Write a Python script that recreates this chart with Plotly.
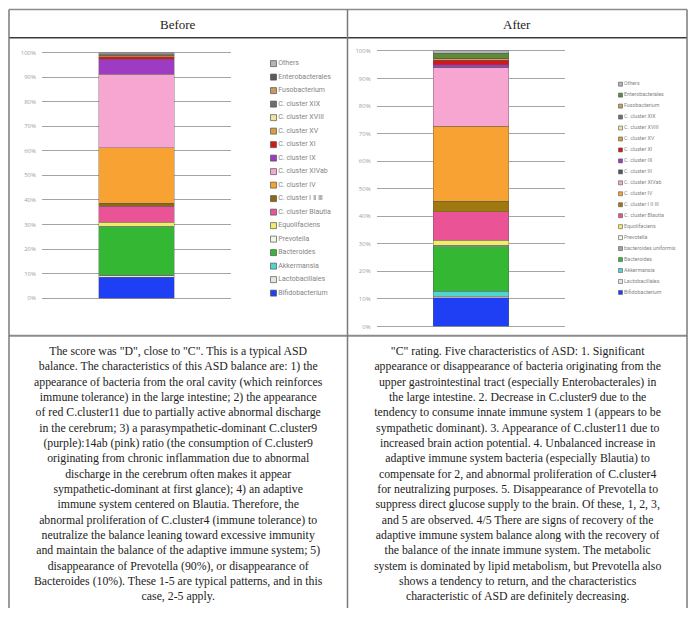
import plotly.graph_objects as go

W, H = 698, 625


def px(x):
    return x / W


def py(y):
    return 1 - y / H


# ---------------- data ----------------
headers = ["Before", "After"]

before_labels = ["Others", "Enterobacterales", "Fusobacterium", "C. cluster XIX", "C. cluster XVIII",
                 "C. cluster XV", "C. cluster XI", "C. cluster IX", "C. cluster XIVab", "C. cluster IV",
                 "C. cluster Ⅰ Ⅱ Ⅲ", "C. cluster Blautia", "Equolifaciens", "Prevotella", "Bacteroides",
                 "Akkermansia", "Lactobacillales", "Bifidobacterium"]
before_values = [0.5, 0.2, 0.3, 0.1, 0.1,
                 0.4, 1.1, 6.1, 29.9, 22.6,
                 1.3, 6.5, 1.6, 0.2, 19.8,
                 0.0, 0.9, 8.4]

after_labels = ["Others", "Enterobacterales", "Fusobacterium", "C. cluster XIX", "C. cluster XVIII",
                "C. cluster XV", "C. cluster XI", "C. cluster IX", "C. cluster III", "C. cluster XIVab",
                "C. cluster IV", "C. cluster I II III", "C. cluster Blautia", "Equolifaciens", "Prevotella",
                "bacteroides uniformis", "Bacteroides", "Akkermansia", "Lactobacillales", "Bifidobacterium"]
after_values = [0.8, 1.8, 0.1, 0.0, 0.2,
                0.4, 1.7, 0.9, 0.0, 21.4,
                27.3, 3.7, 10.5, 1.7, 0.2,
                0.3, 16.3, 1.7, 0.6, 10.4]

tick_values = [0, 10, 20, 30, 40, 50, 60, 70, 80, 90, 100]
tick_labels = ["0%", "10%", "20%", "30%", "40%", "50%", "60%", "70%", "80%", "90%", "100%"]

before_lines = [
    'The score was "D", close to "C". This is a typical ASD',
    'balance. The characteristics of this ASD balance are: 1) the',
    'appearance of bacteria from the oral cavity (which reinforces',
    'immune tolerance) in the large intestine; 2) the appearance',
    'of red C.cluster11 due to partially active abnormal discharge',
    'in the cerebrum; 3) a parasympathetic-dominant C.cluster9',
    '(purple):14ab (pink) ratio (the consumption of C.cluster9',
    'originating from chronic inflammation due to abnormal',
    'discharge in the cerebrum often makes it appear',
    'sympathetic-dominant at first glance); 4) an adaptive',
    'immune system centered on Blautia. Therefore, the',
    'abnormal proliferation of C.cluster4 (immune tolerance) to',
    'neutralize the balance leaning toward excessive immunity',
    'and maintain the balance of the adaptive immune system; 5)',
    'disappearance of Prevotella (90%), or disappearance of',
    'Bacteroides (10%). These 1-5 are typical patterns, and in this',
    'case, 2-5 apply.',
]
after_lines = [
    '"C" rating. Five characteristics of ASD: 1. Significant',
    'appearance or disappearance of bacteria originating from the',
    'upper gastrointestinal tract (especially Enterobacterales) in',
    'the large intestine. 2. Decrease in C.cluster9 due to the',
    'tendency to consume innate immune system 1 (appears to be',
    'sympathetic dominant). 3. Appearance of C.cluster11 due to',
    'increased brain action potential. 4. Unbalanced increase in',
    'adaptive immune system bacteria (especially Blautia) to',
    'compensate for 2, and abnormal proliferation of C.cluster4',
    'for neutralizing purposes. 5. Disappearance of Prevotella to',
    'suppress direct glucose supply to the brain. Of these, 1, 2, 3,',
    'and 5 are observed. 4/5 There are signs of recovery of the',
    'adaptive immune system balance along with the recovery of',
    'the balance of the innate immune system. The metabolic',
    'system is dominated by lipid metabolism, but Prevotella also',
    'shows a tendency to return, and the characteristics',
    'characteristic of ASD are definitely decreasing.',
]

# ---------------- styles ----------------
colors = {
    "Others": "#b4b4b4",
    "Enterobacterales": "#5a5a5a",
    "Fusobacterium": "#c89b5a",
    "C. cluster XIX": "#6e6e6e",
    "C. cluster XVIII": "#f2e49a",
    "C. cluster XV": "#d4a040",
    "C. cluster XI": "#d41818",
    "C. cluster IX": "#9d3cc2",
    "C. cluster III": "#555555",
    "C. cluster XIVab": "#f7a5d1",
    "C. cluster IV": "#f7a233",
    "C. cluster Ⅰ Ⅱ Ⅲ": "#8a6a10",
    "C. cluster I II III": "#a07810",
    "C. cluster Blautia": "#ea5496",
    "Equolifaciens": "#f3ec6a",
    "Prevotella": "#eef5e6",
    "bacteroides uniformis": "#9aa89a",
    "Bacteroides": "#34b834",
    "Akkermansia": "#4fd6d0",
    "Lactobacillales": "#e6e6dc",
    "Bifidobacterium": "#1f3ff5",
}
after_colors = dict(colors)
after_colors["Enterobacterales"] = "#5b8c3a"

SEG_LINE = dict(color="rgba(90,90,90,0.65)", width=0.6)

fig = go.Figure()

# stacked bars (first trace at bottom)
for lab, val in reversed(list(zip(before_labels, before_values))):
    fig.add_trace(go.Bar(x=[headers[0]], y=[val], name=lab, width=0.4,
                         marker=dict(color=colors[lab], line=SEG_LINE),
                         xaxis="x", yaxis="y", showlegend=False))
for lab, val in reversed(list(zip(after_labels, after_values))):
    fig.add_trace(go.Bar(x=[headers[1]], y=[val], name=lab, width=0.4,
                         marker=dict(color=after_colors[lab], line=SEG_LINE),
                         xaxis="x2", yaxis="y2", showlegend=False))

# legends drawn as marker+text columns
fig.add_trace(go.Scatter(
    x=[0] * len(before_labels), y=list(range(len(before_labels))),
    mode="markers+text", text=before_labels, textposition="middle right",
    marker=dict(symbol="square", size=6, color=[colors[l] for l in before_labels],
                line=dict(color="#555", width=0.7)),
    textfont=dict(family="Roboto", size=7, color=["#858585"] * len(before_labels)),
    xaxis="x3", yaxis="y3", cliponaxis=False, showlegend=False, hoverinfo="skip"))
fig.add_trace(go.Scatter(
    x=[0] * len(after_labels), y=list(range(len(after_labels))),
    mode="markers+text", text=after_labels, textposition="middle right",
    marker=dict(symbol="square", size=4, color=[after_colors[l] for l in after_labels],
                line=dict(color="#555", width=0.6)),
    textfont=dict(family="Roboto", size=5.3, color=["#858585"] * len(after_labels)),
    xaxis="x4", yaxis="y4", cliponaxis=False, showlegend=False, hoverinfo="skip"))

PAD = 0.8  # small range padding so the 0% and 100% gridlines are drawn


def ydomain(y0px, y100px):
    per = (y0px - y100px) / 100.0
    return [py(y0px + PAD * per), py(y100px - PAD * per)]


yax_common = dict(range=[-PAD, 100 + PAD], autorange=False, tickvals=tick_values, ticktext=tick_labels,
                  showgrid=True, gridcolor="#a4a4a4", gridwidth=1, zeroline=False, showline=False,
                  ticks="", ticklabelstandoff=5, tickfont=dict(family="Open Sans", size=6, color="#a0a0a0"),
                  fixedrange=True)

fig.update_layout(
    width=W, height=H, margin=dict(l=0, r=0, t=0, b=0),
    paper_bgcolor="white", plot_bgcolor="rgba(0,0,0,0)",
    barmode="stack", bargap=0,
    xaxis=dict(domain=[px(42), px(231)], visible=False, anchor="y", fixedrange=True),
    yaxis=dict(domain=ydomain(298, 51), anchor="x", **yax_common),
    xaxis2=dict(domain=[px(376.7), px(565)], visible=False, anchor="y2", fixedrange=True),
    yaxis2=dict(domain=ydomain(326.5, 49.3), anchor="x2", **yax_common),
    xaxis3=dict(domain=[px(273.5), px(345)], range=[0, 1], visible=False, anchor="y3"),
    yaxis3=dict(domain=[py(293), py(62)], range=[len(before_labels) - 1, 0], visible=False, anchor="x3"),
    xaxis4=dict(domain=[px(620.5), px(685)], range=[0, 1], visible=False, anchor="y4"),
    yaxis4=dict(domain=[py(292.3), py(82.7)], range=[len(after_labels) - 1, 0], visible=False, anchor="x4"),
    hovermode=False,
)

# table grid
L, M, R = 9, 347.5, 687
TOP, HB, CB, BOT = 7.5, 36, 336, 610
shapes = [
    dict(type="line", xref="paper", yref="paper", x0=px(L), x1=px(R), y0=py(TOP), y1=py(TOP),
         line=dict(color="#8c8c8c", width=1.5)),
    dict(type="line", xref="paper", yref="paper", x0=px(L), x1=px(R), y0=py(HB), y1=py(HB),
         line=dict(color="#3c3c3c", width=1.5)),
    dict(type="line", xref="paper", yref="paper", x0=px(L), x1=px(R), y0=py(CB), y1=py(CB),
         line=dict(color="#8c8c8c", width=2)),
]
for xv in (L, M, R):
    shapes.append(dict(type="line", xref="paper", yref="paper", x0=px(xv), x1=px(xv), y0=py(TOP), y1=py(BOT),
                       line=dict(color="#7a7a7a", width=1.5)))
fig.update_layout(shapes=shapes)

serif = "Liberation Serif"
ann = [
    dict(text=headers[0], x=px((L + M) / 2), y=py(22.5), xref="paper", yref="paper", showarrow=False,
         xanchor="center", yanchor="middle", font=dict(family=serif, size=13, color="#222")),
    dict(text=headers[1], x=px((M + R) / 2), y=py(22.5), xref="paper", yref="paper", showarrow=False,
         xanchor="center", yanchor="middle", font=dict(family=serif, size=13, color="#222")),
    dict(text="<br>".join(before_lines), x=px(178), y=py(474.3), xref="paper", yref="paper",
         showarrow=False, xanchor="center", yanchor="middle", align="center",
         font=dict(family=serif, size=11.8, color="#222")),
    dict(text="<br>".join(after_lines), x=px(517), y=py(474.5), xref="paper", yref="paper",
         showarrow=False, xanchor="center", yanchor="middle", align="center",
         font=dict(family=serif, size=11.8, color="#222")),
]
fig.update_layout(annotations=ann)

fig.write_html("out.html",
               config={"displayModeBar": False, "staticPlot": True},
               post_script="document.body.style.margin='0';document.body.style.padding='0';"
                           "document.body.style.overflow='hidden';")
